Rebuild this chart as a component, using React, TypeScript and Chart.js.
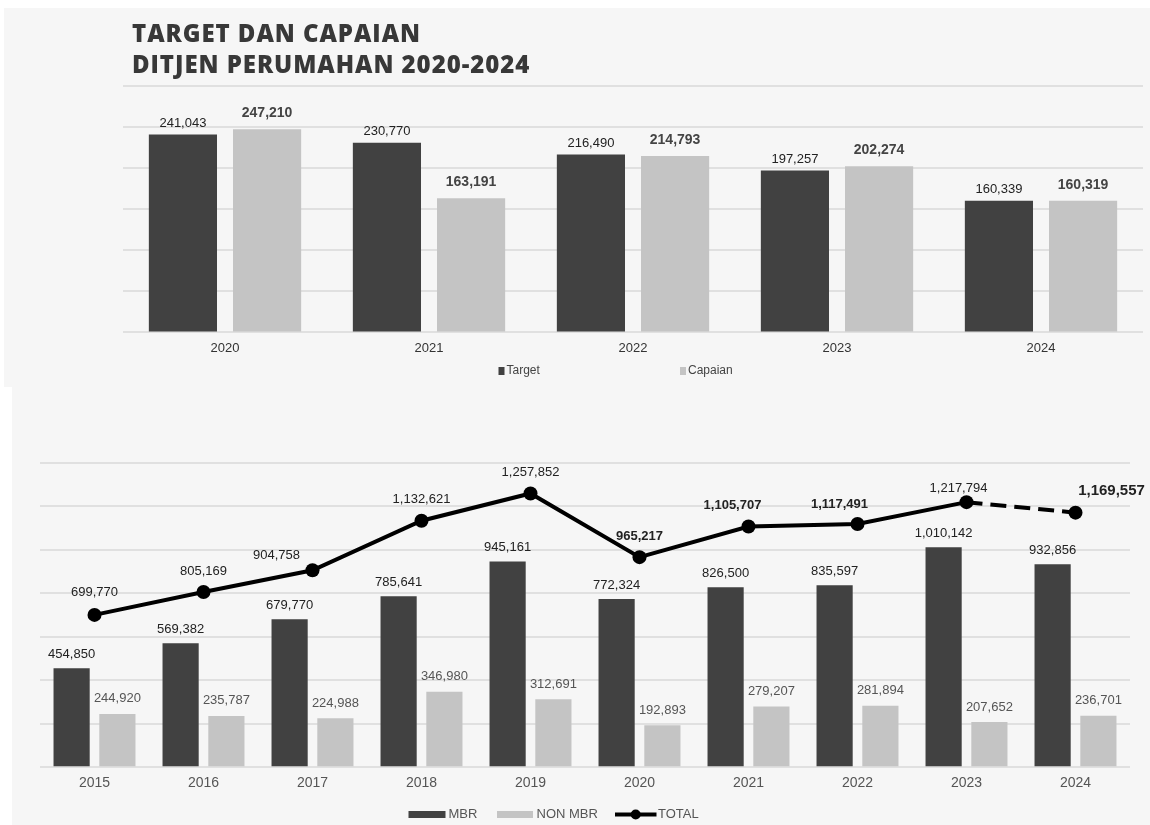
import React, { useEffect, useRef } from 'react';
import { Chart, registerables } from 'chart.js';

Chart.register(...registerables);

// ---------- data ----------
const TITLE_LINES = ['TARGET DAN CAPAIAN', 'DITJEN PERUMAHAN 2020-2024'];
const TOP_YEARS = ['2020', '2021', '2022', '2023', '2024'];
const TARGET = [241043, 230770, 216490, 197257, 160339];
const CAPAIAN = [247210, 163191, 214793, 202274, 160319];

const YEARS = ['2015', '2016', '2017', '2018', '2019', '2020', '2021', '2022', '2023', '2024'];
const MBR = [454850, 569382, 679770, 785641, 945161, 772324, 826500, 835597, 1010142, 932856];
const NON_MBR = [244920, 235787, 224988, 346980, 312691, 192893, 279207, 281894, 207652, 236701];
const TOTAL = [699770, 805169, 904758, 1132621, 1257852, 965217, 1105707, 1117491, 1217794, 1169557];

// ---------- styles ----------
const FONT = '"Liberation Sans", Arial, sans-serif';
const BG = '#f6f6f6';
const DARK = '#414141';
const LIGHT = '#c4c4c4';
const GRID = '#e0e0e0';

// label placement/style for TOTAL line labels (dx, dy, weight, size)
const TOTAL_LABEL_STYLE: Array<[number, number, string, number]> = [
  [0, -22, 'normal', 13],
  [0, -21, 'normal', 13],
  [-36, -15, 'normal', 13],
  [0, -21, 'normal', 13],
  [0, -21, 'normal', 13],
  [0, -21, 'bold', 13],
  [-16, -21, 'bold', 13],
  [-18, -20, 'bold', 13],
  [-8, -14, 'normal', 13],
  [36, -22, 'bold', 15],
];

const fmt = (v: number) => v.toLocaleString('en-US');

const valueLabels = {
  id: 'valueLabels',
  afterDatasetsDraw(chart: any) {
    const ctx = chart.ctx;
    chart.data.datasets.forEach((ds: any, di: number) => {
      const lab = ds.valueLabel;
      if (!lab) return;
      const meta = chart.getDatasetMeta(di);
      meta.data.forEach((el: any, i: number) => {
        const st = typeof lab === 'function' ? lab(i) : lab;
        ctx.save();
        ctx.font = `${st.weight || 'normal'} ${st.size}px ${FONT}`;
        ctx.fillStyle = st.color;
        ctx.textAlign = 'center';
        ctx.textBaseline = 'middle';
        ctx.fillText(fmt(ds.data[i]), el.x + (st.dx || 0), el.y + st.dy);
        ctx.restore();
      });
    });
  },
};

function TopChart() {
  const ref = useRef<HTMLCanvasElement>(null);
  useEffect(() => {
    const titlePlugin = {
      id: 'titleText',
      afterDraw(chart: any) {
        const ctx = chart.ctx;
        ctx.save();
        ctx.font = '800 24px "Open Sans", sans-serif';
        try { (ctx as any).letterSpacing = '0.95px'; } catch (e) {}
        ctx.fillStyle = '#383838';
        ctx.textAlign = 'left';
        ctx.textBaseline = 'alphabetic';
        ctx.fillText(TITLE_LINES[0], 128, 34);
        ctx.fillText(TITLE_LINES[1], 128, 64.5);
        ctx.restore();
      },
    };
    const legendPlugin = {
      id: 'customLegend',
      afterDraw(chart: any) {
        const ctx = chart.ctx;
        const y = 363;
        const xs = [494.5, 676];
        ctx.save();
        chart.data.datasets.forEach((ds: any, i: number) => {
          ctx.fillStyle = ds.backgroundColor;
          ctx.fillRect(xs[i], y - 4, 6, 8);
          ctx.font = `12px ${FONT}`;
          ctx.fillStyle = '#444';
          ctx.textAlign = 'left';
          ctx.textBaseline = 'middle';
          ctx.fillText(ds.label, xs[i] + 8, y);
        });
        ctx.restore();
      },
    };
    const chart = new Chart(ref.current!, {
      type: 'bar',
      data: {
        labels: TOP_YEARS,
        datasets: [
          {
            label: 'Target',
            data: TARGET,
            backgroundColor: DARK,
            categoryPercentage: 0.825,
            barPercentage: 0.81,
            valueLabel: { color: '#222', size: 13, weight: 'normal', dy: -11 },
          } as any,
          {
            label: 'Capaian',
            data: CAPAIAN,
            backgroundColor: LIGHT,
            categoryPercentage: 0.825,
            barPercentage: 0.81,
            valueLabel: { color: '#444', size: 14, weight: 'bold', dy: -16 },
          } as any,
        ],
      },
      options: {
        responsive: false,
        animation: false,
        layout: { padding: { left: 119, right: 7, top: 78, bottom: 23 } },
        plugins: { legend: { display: false }, tooltip: { enabled: false }, title: { display: false } },
        scales: {
          x: {
            grid: { display: false, drawTicks: false },
            border: { display: false },
            ticks: { color: '#333', font: { size: 13, family: FONT }, padding: 8 },
          },
          y: {
            min: 0,
            max: 300000,
            ticks: { display: false, stepSize: 50000 },
            grid: { color: GRID, lineWidth: 2, drawTicks: false },
            border: { display: false },
          },
        },
      },
      plugins: [valueLabels, titlePlugin, legendPlugin],
    });
    return () => chart.destroy();
  }, []);
  return <canvas ref={ref} width={1146} height={379} style={{ width: 1146, height: 379, display: 'block' }} />;
}

function BottomChart() {
  const ref = useRef<HTMLCanvasElement>(null);
  useEffect(() => {
    const legendPlugin = {
      id: 'customLegend2',
      afterDraw(chart: any) {
        const ctx = chart.ctx;
        const y = 427.5;
        ctx.save();
        ctx.font = `13px ${FONT}`;
        ctx.textAlign = 'left';
        ctx.textBaseline = 'middle';
        const ds = chart.data.datasets;
        // MBR
        ctx.fillStyle = ds[1].backgroundColor;
        ctx.fillRect(396.5, y - 3.5, 37, 7);
        ctx.fillStyle = '#555';
        ctx.fillText(ds[1].label, 436.5, y);
        // NON MBR
        ctx.fillStyle = ds[2].backgroundColor;
        ctx.fillRect(485, y - 3.5, 36, 7);
        ctx.fillStyle = '#555';
        ctx.fillText(ds[2].label, 524.5, y);
        // TOTAL
        ctx.strokeStyle = '#000';
        ctx.lineWidth = 4;
        ctx.beginPath();
        ctx.moveTo(603, y);
        ctx.lineTo(644.5, y);
        ctx.stroke();
        ctx.fillStyle = '#000';
        ctx.beginPath();
        ctx.arc(623.7, y, 5, 0, Math.PI * 2);
        ctx.fill();
        ctx.fillStyle = '#555';
        ctx.fillText(ds[0].label, 646, y);
        ctx.restore();
      },
    };
    const chart = new Chart(ref.current!, {
      type: 'bar',
      data: {
        labels: YEARS,
        datasets: [
          {
            type: 'line',
            label: 'TOTAL',
            data: TOTAL,
            borderColor: '#000',
            backgroundColor: '#000',
            borderWidth: 4,
            pointRadius: 7,
            pointBackgroundColor: '#000',
            pointBorderWidth: 0,
            tension: 0,
            segment: {
              borderDash: (c: any) => (c.p0DataIndex === TOTAL.length - 2 ? [16, 8] : undefined),
            },
            valueLabel: (i: number) => ({
              color: '#222',
              dx: TOTAL_LABEL_STYLE[i][0],
              dy: TOTAL_LABEL_STYLE[i][1],
              weight: TOTAL_LABEL_STYLE[i][2],
              size: TOTAL_LABEL_STYLE[i][3],
            }),
          } as any,
          {
            label: 'MBR',
            data: MBR,
            backgroundColor: DARK,
            categoryPercentage: 0.84,
            barPercentage: 0.79,
            valueLabel: { color: '#222', size: 13, weight: 'normal', dy: -14 },
          } as any,
          {
            label: 'NON MBR',
            data: NON_MBR,
            backgroundColor: LIGHT,
            categoryPercentage: 0.84,
            barPercentage: 0.79,
            valueLabel: { color: '#555', size: 13, weight: 'normal', dy: -15 },
          } as any,
        ],
      },
      options: {
        responsive: false,
        animation: false,
        layout: { padding: { left: 28, right: 20, top: 75.5, bottom: 25 } },
        plugins: { legend: { display: false }, tooltip: { enabled: false }, title: { display: false } },
        scales: {
          x: {
            grid: { display: false, drawTicks: false },
            border: { display: false },
            ticks: { color: '#555', font: { size: 14, family: FONT }, padding: 8 },
          },
          y: {
            min: 0,
            max: 1400000,
            ticks: { display: false, stepSize: 200000 },
            grid: { color: GRID, lineWidth: 2, drawTicks: false },
            border: { display: false },
          },
        },
      },
      plugins: [valueLabels, legendPlugin],
    });
    return () => chart.destroy();
  }, []);
  return <canvas ref={ref} width={1138} height={438} style={{ width: 1138, height: 438, display: 'block' }} />;
}

export default function App() {
  return (
    <div>
      <div style={{ position: 'absolute', left: 4, top: 8, width: 1146, height: 379, background: BG }}>
        <TopChart />
      </div>
      <div style={{ position: 'absolute', left: 12, top: 387, width: 1138, height: 438, background: BG }}>
        <BottomChart />
      </div>
    </div>
  );
}
